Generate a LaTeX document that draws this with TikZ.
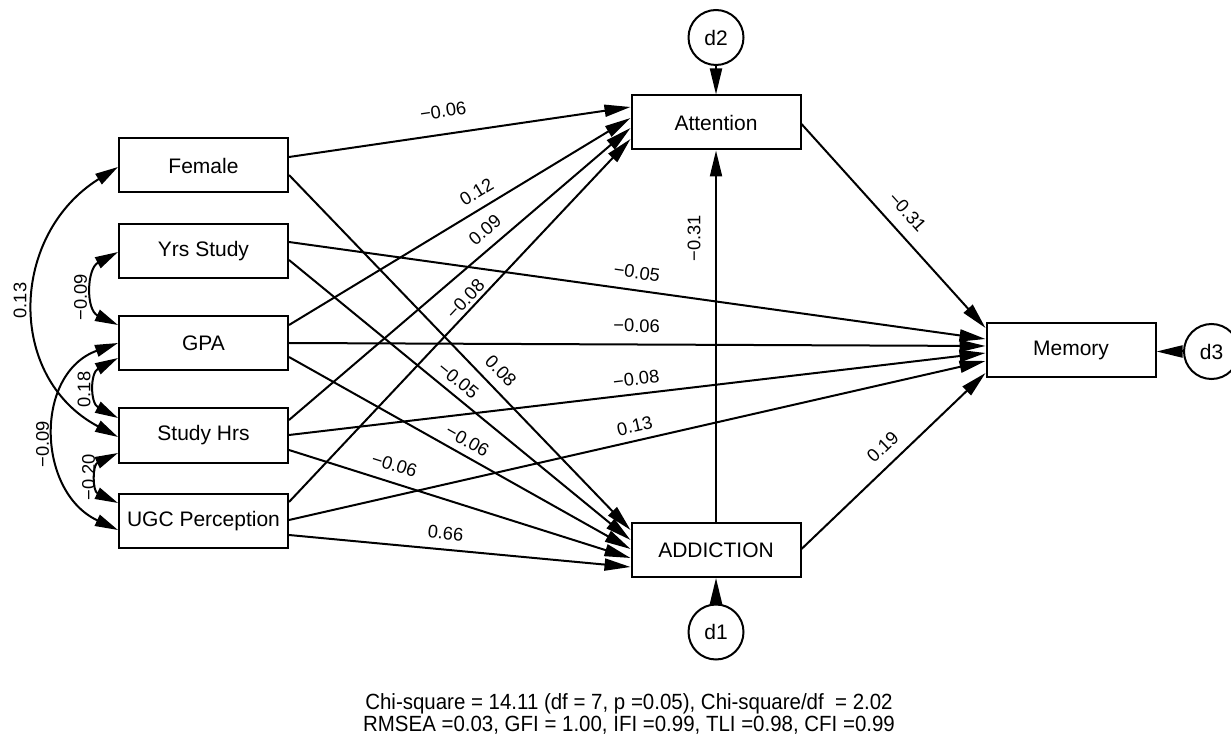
\documentclass[tikz,border=0pt]{standalone}
\usepackage{graphicx}
\usepackage{fontspec}
\setmainfont{Liberation Sans}
\usetikzlibrary{arrows.meta,calc}
\begin{document}
\begin{tikzpicture}[x=0.5pt,y=-0.5pt,
  varbox/.style={draw,line width=1pt,minimum width=84.5pt,minimum height=27pt,inner sep=0pt,font=\fontsize{10.5}{12}\selectfont},
  errc/.style={draw,circle,line width=1pt,minimum size=27.5pt,inner sep=0pt,font=\fontsize{10.5}{12}\selectfont},
  arr/.style={line width=1pt,-{Triangle[length=13pt,width=6pt]}},
  cov/.style={line width=1pt,{Triangle[length=11.5pt,width=6pt]}-{Triangle[length=11.5pt,width=6pt]}},
  lab/.style={font=\fontsize{9.15}{11}\selectfont,inner sep=0pt,sloped},
  clab/.style={font=\fontsize{9.15}{11}\selectfont,inner sep=0pt,rotate=90},
  fitline/.style={font=\fontsize{11}{12}\selectfont,inner sep=0pt,anchor=base}
]
\useasboundingbox (0,0) rectangle (1231,737);
% variables
\node[varbox] (female) at (203.5,165.5) {Female};
\node[varbox] (yrs) at (203.5,251) {Yrs Study};
\node[varbox] (gpa) at (203.5,343) {GPA};
\node[varbox] (hrs) at (203.5,435.5) {Study Hrs};
\node[varbox] (ugc) at (203.5,521) {UGC Perception};
\node[varbox] (att) at (716,122.5) {Attention};
\node[varbox] (add) at (716,550) {ADDICTION};
\node[varbox] (mem) at (1071,350.5) {Memory};
\node[errc] (d2) at (716,37.5) {d2};
\node[errc] (d1) at (716,632) {d1};
\node[errc] (d3) at (1211.5,351.5) {d3};
% paths to Attention
\draw[arr] ($(female.east)+(0,-8.5)$) -- node[lab,pos=.461,above=7.8pt]{−0.06} ($(att.west)+(0,-15.5)$);
\draw[arr] ($(gpa.east)+(0,-18)$) -- node[lab,pos=.574,above=4.4pt]{0.12} ($(att.west)+(0,-4.5)$);
\draw[arr] ($(hrs.east)+(0,-15.5)$) -- node[lab,pos=.606,above=4.75pt]{0.09} ($(att.west)+(0,5.5)$);
\draw[arr] ($(ugc.east)+(0,-19)$) -- node[lab,pos=.539,above=1.6pt]{−0.08} ($(att.west)+(0,16.5)$);
% paths to ADDICTION
\draw[arr] ($(female.east)+(0,9.5)$) -- node[lab,pos=.585,above=4.6pt]{0.08} ($(add.west)+(0,-20)$);
\draw[arr] ($(yrs.east)+(0,9)$) -- node[lab,pos=.469,above=3.5pt]{−0.05} ($(add.west)+(0,-10)$);
\draw[arr] ($(gpa.east)+(0,14)$) -- node[lab,pos=.502,above=3.45pt]{−0.06} ($(add.west)+(0,-1)$);
\draw[arr] ($(hrs.east)+(0,14.5)$) -- node[lab,pos=.293,above=5pt]{−0.06} ($(add.west)+(0,8)$);
\draw[arr] ($(ugc.east)+(0,14)$) -- node[lab,pos=.454,above=4.55pt]{0.66} ($(add.west)+(0,17)$);
% paths to Memory
\draw[arr] ($(yrs.east)+(0,-9)$) -- node[lab,pos=.496,above=5.2pt]{−0.05} ($(mem.west)+(0,-11.5)$);
\draw[arr] (gpa.east) -- node[lab,pos=.499,above=5.65pt]{−0.06} ($(mem.west)+(0,-4.5)$);
\draw[arr] ($(hrs.east)+(0,-0.5)$) -- node[lab,pos=.501,above=3.75pt]{−0.08} ($(mem.west)+(0,2.5)$);
\draw[arr] ($(ugc.east)+(0,-1)$) -- node[lab,pos=.501,above=3.6pt]{0.13} ($(mem.west)+(0,10.5)$);
\draw[arr] ($(att.east)+(0,1.5)$) -- node[lab,pos=.496,above=6.1pt]{−0.31} ($(mem.west)+(0,-22.5)$);
\draw[arr] ($(add.east)+(0,-1)$) -- node[lab,pos=.507,above=5pt]{0.19} ($(mem.west)+(0,22.5)$);
% ADDICTION to Attention
\draw[arr] (add.north) -- (att.south);
\node[clab] (l31) at (694,238) {−0.31};
% disturbances
\draw[arr] (d2.south) -- (d2.south |- att.north);
\draw[arr] (d1.north) -- (d1.north |- add.south);
\draw[arr] (d3.west) -- (d3.west -| mem.east);
% covariances
\draw[cov] ($(female.west)+(0,1.5)$) to[out=212,in=152,looseness=1.21] ($(hrs.west)+(0,1.5)$);
\draw[cov] ($(yrs.west)+(0,1)$) to[out=208,in=155,looseness=1.25] ($(gpa.west)+(0,-18)$);
\draw[cov] ($(gpa.west)+(0,15)$) to[out=208,in=152,looseness=1.35] ($(hrs.west)+(0,-17.5)$);
\draw[cov] (gpa.west) to[out=200,in=155,looseness=1.23] ($(ugc.west)+(0,9)$);
\draw[cov] ($(hrs.west)+(0,17.5)$) to[out=205,in=155,looseness=1.45] ($(ugc.west)+(0,-18)$);
\node[clab] (c1) at (20,300.5) {0.13};
\node[clab] (c2) at (80.5,297) {−0.09};
\node[clab] (c3) at (84,389.5) {0.18};
\node[clab] (c4) at (42.5,444.5) {−0.09};
\node[clab] (c5) at (88.5,477.5) {−0.20};
% fit indices
\node[fitline] (fit1) at (629,709.5) {\scalebox{0.93}[1]{Chi-square = 14.11 (df = 7, p =0.05), Chi-square/df~ = 2.02}};
\node[fitline] (fit2) at (629,731) {\scalebox{0.93}[1]{RMSEA =0.03, GFI = 1.00, IFI =0.99, TLI =0.98, CFI =0.99}};
\end{tikzpicture}
\end{document}
